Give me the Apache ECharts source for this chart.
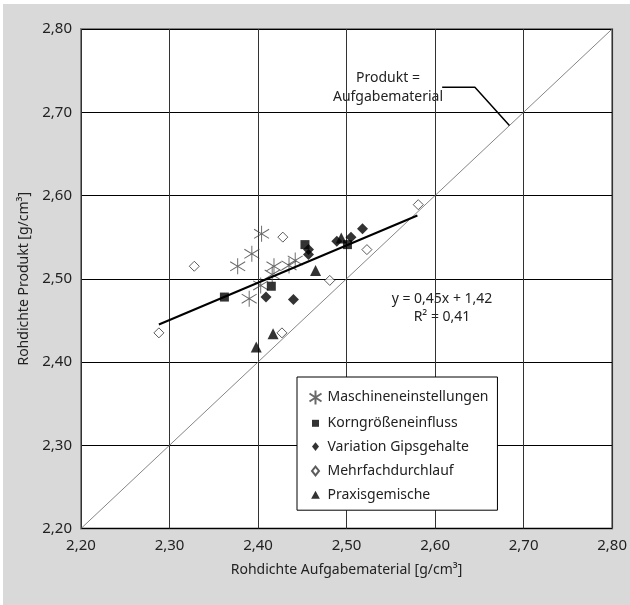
<!DOCTYPE html>
<html>
<head>
<meta charset="utf-8">
<script src="https://cdn.jsdelivr.net/npm/echarts@6/dist/echarts.min.js"></script>
<style>
  body { margin: 0; background: #fff; }
  #chartBox { position: absolute; left: 3px; top: 4px; width: 627px; height: 601px; }
</style>
</head>
<body>
<div id="chartBox"></div>
<script>
// Messwerte [Rohdichte Aufgabematerial, Rohdichte Produkt]
const maschinen = [
  [2.404, 2.554], [2.393, 2.530], [2.377, 2.515], [2.418, 2.515], [2.435, 2.516],
  [2.442, 2.522], [2.416, 2.505], [2.403, 2.492], [2.390, 2.476]
]
const korngroesse = [
  [2.362, 2.478], [2.415, 2.491], [2.453, 2.541], [2.501, 2.541]
]
const gipsgehalte = [
  [2.457, 2.535], [2.457, 2.529], [2.409, 2.478], [2.440, 2.475],
  [2.489, 2.545], [2.505, 2.550], [2.518, 2.560]
]
const mehrfach = [
  [2.428, 2.550], [2.481, 2.498], [2.523, 2.535], [2.328, 2.515],
  [2.288, 2.435], [2.427, 2.435], [2.581, 2.589]
]
const praxis = [
  [2.465, 2.510], [2.417, 2.434], [2.398, 2.418], [2.494, 2.549]
]
// Trendlinie y = 0,45x + 1,42
const trend = [[2.288, 2.445], [2.580, 2.576]]
// Winkelhalbierende Produkt = Aufgabematerial
const diagonal = [[2.20, 2.20], [2.80, 2.80]]
const hinweisLinie = [[2.608, 2.730], [2.645, 2.730], [2.684, 2.684]]
const ticks = [2.20, 2.30, 2.40, 2.50, 2.60, 2.70, 2.80]

const font = 'Noto Sans'
const fmt = v => v.toFixed(2).replace('.', ',')
// Legenden-Symbole mit leerem Rand (M-Punkte spannen den Rahmen auf)
const asterisk = 'path://M0,3L12,11M0,11L12,3M6,0L6,14'

let myChart = echarts.init(document.getElementById('chartBox'))
myChart.setOption({
  backgroundColor: '#d9d9d9',
  animation: false,
  textStyle: { fontFamily: font },
  grid: {
    left: 78, top: 25, right: 16, bottom: 76.5,
    show: true, backgroundColor: '#fff', borderColor: '#808080', borderWidth: 2
  },
  xAxis: {
    type: 'value', min: ticks[0], max: ticks[ticks.length - 1], interval: 0.1,
    name: 'Rohdichte Aufgabematerial [g/cm³]', nameLocation: 'middle', nameGap: 35,
    nameTextStyle: { fontSize: 14, color: '#222', fontFamily: font },
    axisLine: { show: false }, axisTick: { show: false },
    axisLabel: { formatter: fmt, fontSize: 15, color: '#222', margin: 10 },
    splitLine: { lineStyle: { color: '#333', width: 1 } }
  },
  yAxis: {
    type: 'value', min: ticks[0], max: ticks[ticks.length - 1], interval: 0.1,
    name: 'Rohdichte Produkt [g/cm³]', nameLocation: 'middle', nameGap: 49,
    nameTextStyle: { fontSize: 14, color: '#222', fontFamily: font },
    axisLine: { show: false }, axisTick: { show: false },
    axisLabel: { formatter: fmt, fontSize: 15, color: '#222', margin: 9 },
    splitLine: { lineStyle: { color: '#000', width: 1 } }
  },
  legend: {
    orient: 'vertical', left: 294, top: 373,
    backgroundColor: '#fff', borderColor: '#000', borderWidth: 1,
    padding: [11, 9, 8, 10], itemWidth: 14, itemHeight: 14, itemGap: 9.3,
    textStyle: { fontSize: 14, lineHeight: 14, color: '#222', fontFamily: font },
    data: [
      { name: 'Maschineneinstellungen', icon: asterisk },
      { name: 'Korngrößeneinfluss', icon: 'path://M0,0M16,16M4,4H12V12H4Z' },
      { name: 'Variation Gipsgehalte', icon: 'path://M0,0M16,16M8,3L12,8L8,13L4,8Z' },
      { name: 'Mehrfachdurchlauf', icon: 'path://M0,0M16,16M8,3L12,8L8,13L4,8Z' },
      { name: 'Praxisgemische', icon: 'path://M0,0M16,16M8,3L13,12H3Z' }
    ]
  },
  graphic: [
    {
      type: 'text',
      style: {
        text: 'Produkt =\nAufgabematerial', x: 385, y: 65, align: 'center',
        fontSize: 14, lineHeight: 19, fill: '#222', fontFamily: font
      }
    },
    {
      type: 'text',
      style: {
        text: 'y = 0,45x + 1,42\nR² = 0,41', x: 439, y: 286, align: 'center',
        fontSize: 14, lineHeight: 18, fill: '#222', fontFamily: font
      }
    }
  ],
  series: [
    {
      type: 'line', data: diagonal, symbol: 'none', silent: true,
      lineStyle: { color: '#666', width: 0.8 }, z: 1
    },
    {
      type: 'line', data: hinweisLinie, symbol: 'none', silent: true,
      lineStyle: { color: '#000', width: 1.5 }, z: 1
    },
    {
      name: 'Maschineneinstellungen', type: 'scatter', data: maschinen,
      symbol: asterisk, symbolSize: [15, 16],
      itemStyle: { color: 'none', borderColor: '#444', borderWidth: 1 }, z: 3
    },
    {
      name: 'Korngrößeneinfluss', type: 'scatter', data: korngroesse,
      symbol: 'rect', symbolSize: 9, itemStyle: { color: '#000' }, z: 3
    },
    {
      name: 'Variation Gipsgehalte', type: 'scatter', data: gipsgehalte,
      symbol: 'diamond', symbolSize: 11, itemStyle: { color: '#000' }, z: 3
    },
    {
      name: 'Mehrfachdurchlauf', type: 'scatter', data: mehrfach,
      symbol: 'diamond', symbolSize: 10,
      itemStyle: { color: '#fff', borderColor: '#333', borderWidth: 1 }, z: 3
    },
    {
      name: 'Praxisgemische', type: 'scatter', data: praxis,
      symbol: 'triangle', symbolSize: 11, itemStyle: { color: '#000' }, z: 3
    },
    {
      type: 'line', data: trend, symbol: 'none', silent: true,
      lineStyle: { color: '#000', width: 2 }, z: 4
    }
  ]
})
</script>
</body>
</html>
